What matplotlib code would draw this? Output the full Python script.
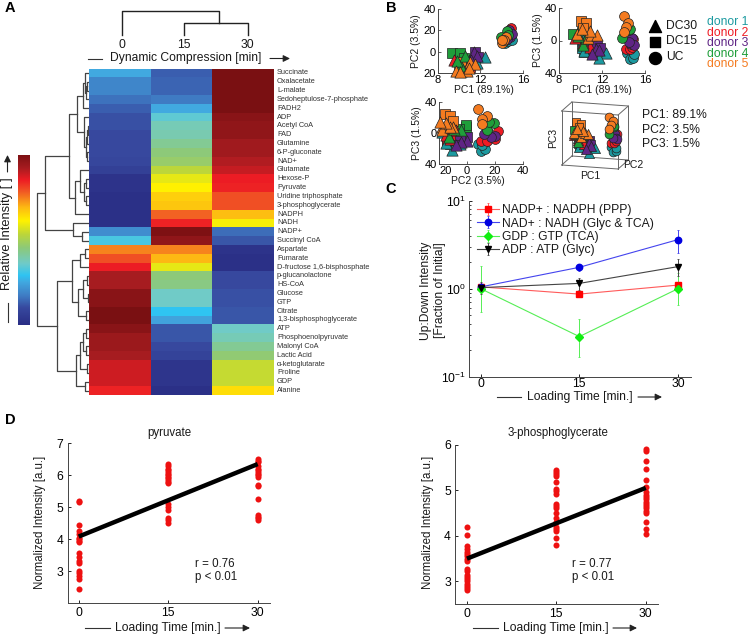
import matplotlib
matplotlib.use('Agg')
import matplotlib.pyplot as plt
import numpy as np
from matplotlib.colors import LinearSegmentedColormap
from matplotlib.ticker import LogFormatterMathtext, NullFormatter

plt.rcParams['font.family'] = ['Liberation Sans', 'DejaVu Sans']
plt.rcParams['mathtext.default'] = 'regular'
plt.rcParams['axes.linewidth'] = 0.7
plt.rcParams['axes.edgecolor'] = '#444444'
plt.rcParams['text.color'] = '#1a1a1a'

W, H = 750, 637

# panel A
metabolites = ['Succinate', 'Oxalacetate', 'L-malate', 'Sedoheptulose-7-phosphate', 'FADH2', 'ADP', 'Acetyl CoA', 'FAD',
               'Glutamine', '6-P-gluconate', 'NAD+', 'Glutamate', 'Hexose-P', 'Pyruvate', 'Uridine triphosphate',
               '3-phosphoglycerate', 'NADPH', 'NADH', 'NADP+', 'Succinyl CoA', 'Aspartate', 'Fumarate',
               'D-fructose 1,6-bisphosphate', 'p-glucanolactone', 'HS-CoA', 'Glucose', 'GTP', 'Citrate',
               '1,3-bisphosphoglycerate', 'ATP', 'Phosphoenolpyruvate', 'Malonyl CoA', 'Lactic Acid', 'α-ketoglutarate',
               'Proline', 'GDP', 'Alanine']
heat_0 = [.25, .19, .19, .16, .13, .11, .11, .10, .10, .10, .09, .07, .02, .02, .01, .01, .01, .01, .20, .32, .74, .79,
          .85, .92, .92, .97, .97, 1.0, 1.0, .97, .94, .94, .92, .88, .88, .88, .84]
heat_15 = [.13, .14, .14, .17, .25, .34, .38, .39, .42, .45, .47, .53, .58, .61, .66, .67, .77, .84, .99, .96, .74, .69,
           .58, .45, .44, .36, .36, .29, .24, .12, .12, .10, .08, .03, .03, .03, .01]
heat_30 = [1.0, 1.0, 1.0, 1.0, 1.0, .97, .96, .96, .93, .93, .91, .89, .85, .84, .79, .79, .68, .60, .15, .12, .02, .01,
           .01, .10, .10, .11, .11, .12, .12, .36, .38, .42, .46, .54, .54, .54, .64]
# clustering of the rows: child, child, distance (new nodes are numbered from 37 on)
row_merges = [(1, 2, 2), (37, 3, 3), (0, 38, 4), (39, 4, 6), (6, 7, 1.5), (41, 8, 2.5), (9, 10, 2.5), (42, 43, 3.5),
              (5, 44, 5.5), (40, 45, 12.3), (12, 13, 3.5), (14, 15, 3), (47, 48, 5.5), (11, 49, 9), (50, 16, 14),
              (46, 51, 20), (18, 19, 7.3), (17, 53, 16), (52, 54, 44), (20, 21, 4), (56, 22, 9), (23, 24, 2),
              (25, 26, 1.5), (58, 59, 6), (27, 28, 3), (60, 61, 11.3), (57, 62, 17.3), (29, 30, 3), (31, 32, 3),
              (64, 65, 6), (33, 34, 2), (66, 67, 9), (35, 36, 4), (68, 69, 13.3), (63, 70, 32.3), (55, 71, 52.3)]
heat_times = ['0', '15', '30']

# panel B: PC scores per donor (donor 1..5)
donor_colors = ['#1c9aa0', '#ee1c25', '#5f2585', '#1f9e3a', '#f47b20']
dc15_pc1 = [[10.3, 10.5, 10.1], [10.9, 11.0], [11.5, 11.8, 11.2], [9.3, 10.1, 10.4], [10.0, 10.5, 10.2]]
dc15_pc2 = [[-12, -8, -14], [-10, -14], [0, -5, -8], [-1, -1, -6], [-16, -12, -10]]
dc15_pc3 = [[-14, -11, -9], [-4, -9], [-5, -9, -16], [8, 10, 5], [24, 21, 15]]
dc30_pc1 = [[12.4, 11.7, 10.3, 10.2], [9.5, 10.9, 10.2], [11.4, 11.7, 11.1], [10.2, 10.5, 9.8],
            [9.7, 10.7, 11.0, 11.5, 10.9, 10.1]]
dc30_pc2 = [[-5, -11, -15, -18], [-8, -12, -15], [0, -4, -8], [-13, -4, -9], [-18, -18, -10, -12, -15, -19]]
dc30_pc3 = [[-15, -22, -13, 1], [3, -8, -3], [-10, -12, -16], [-6, 3, 5], [8, 3, 7, 7, 12, 14]]
uc_pc1 = [[14.3, 14.6, 14.9, 15.0], [14.2, 14.6, 14.8, 14.9], [14.8, 14.7, 15.0, 14.5], [14.5, 13.9, 14.6],
          [14.05, 14.4, 14.2, 14.0]]
uc_pc2 = [[8, 10, 13, 11], [10, 14, 20, 22], [14, 20, 17, 12], [19, 14, 16], [8, 14, 11, 11]]
uc_pc3 = [[-15, -23, -21, -16], [-10, -10, -8, 2], [3, -4, -5, -2], [13, 3, 14], [30, 22, 17, 11]]
donor_names = ['donor 1', 'donor 2', 'donor 3', 'donor 4', 'donor 5']
variance = ['PC1: 89.1%', 'PC2: 3.5%', 'PC3: 1.5%']

# panel C
time_c = [0, 15, 30]
nadp_ratio = [1.05, 0.87, 1.10]
nadp_err = [0.08, 0.06, 0.10]
nad_ratio = [1.05, 1.75, 3.6]
nad_err = [0.08, 0.15, 1.05]
gdp_ratio = [1.0, 0.287, 1.0]
gdp_low = [0.46, 0.117, 0.35]
gdp_high = [0.83, 0.173, 0.5]
adp_ratio = [1.03, 1.15, 1.78]
adp_err = [0.16, 0.17, 0.37]

# panel D
time_d = [0, 15, 30]
pyr_0 = [5.2, 5.15, 4.45, 4.25, 4.15, 4.05, 4.0, 3.95, 3.9, 3.55, 3.45, 3.3, 3.25, 3.0, 2.95, 2.85, 2.75, 2.45]
pyr_15 = [6.35, 6.3, 6.2, 6.15, 6.1, 6.05, 6.0, 5.95, 5.9, 5.85, 5.8, 5.75, 5.1, 5.0, 4.9, 4.65, 4.6, 4.5]
pyr_30 = [6.5, 6.45, 6.4, 6.3, 6.2, 6.15, 6.1, 6.05, 6.0, 5.95, 5.7, 5.65, 5.25, 4.75, 4.7, 4.65, 4.6]
pyr_fit = [4.08, 6.35]
pg_0 = [4.2, 4.02, 3.78, 3.72, 3.65, 3.6, 3.55, 3.5, 3.45, 3.28, 3.22, 3.15, 3.1, 3.05, 3.0, 2.95, 2.9, 2.85, 2.82]
pg_15 = [5.45, 5.4, 5.35, 5.3, 5.18, 5.02, 4.98, 4.92, 4.7, 4.65, 4.6, 4.5, 4.4, 4.3, 4.2, 4.15, 4.1, 3.95, 3.8]
pg_30 = [5.9, 5.85, 5.63, 5.47, 5.23, 5.08, 4.95, 4.9, 4.85, 4.8, 4.75, 4.7, 4.65, 4.6, 4.55, 4.5, 4.3, 4.15, 4.05]
pg_fit = [3.5, 5.05]

fig = plt.figure(figsize=(W / 100, H / 100), dpi=100)


def px_axes(x0, y0, x1, y1):
    # axes placed by pixel box (y counted from the top)
    return fig.add_axes([x0 / W, 1 - y1 / H, (x1 - x0) / W, (y1 - y0) / H])


# overlay in pixel coords for labels, arrows
over = fig.add_axes([0, 0, 1, 1], zorder=10)
over.set_xlim(0, W)
over.set_ylim(H, 0)
over.axis('off')
over.patch.set_alpha(0)


def txt(x, y, s, size=8.7, ha='center', **kw):
    over.text(x, y, s, fontsize=size, ha=ha, va='center', **kw)


def arrow_label(x0, x1, x2, x3, y, s, size=8.7):
    # ---- text --->
    over.plot([x0, x1], [y, y], color='#333333', lw=0.8)
    txt((x1 + x2) / 2, y, s, size=size)
    over.annotate('', xy=(x3, y), xytext=(x2, y),
                  arrowprops=dict(arrowstyle='-|>', color='#222222', lw=0.8, mutation_scale=10, shrinkA=0, shrinkB=0))


for letter, lx, ly in [('A', 10, 8), ('B', 391, 8), ('C', 391, 189), ('D', 10, 420)]:
    txt(lx, ly, letter, size=10.5, fontweight='bold', color='black')

# ---- A heatmap
colors = [(0, '#2a2e85'), (.10, '#37499f'), (.17, '#3f7cc4'), (.25, '#41a8e0'), (.29, '#2fc4f2'), (.36, '#70cbc8'),
          (.45, '#8cc97a'), (.53, '#bcd63a'), (.61, '#fff200'), (.69, '#fdb813'), (.78, '#f15a24'), (.85, '#ed1c24'),
          (.92, '#a71c20'), (1, '#7a1012')]
cmap = LinearSegmentedColormap.from_list('heat', colors)
heat = np.array([heat_0, heat_15, heat_30]).T

ax = px_axes(89, 68.5, 273.5, 395)
ax.pcolormesh(heat, cmap=cmap, vmin=0, vmax=1)
ax.set_ylim(len(metabolites), 0)
ax.axis('off')
row_h = 326.5 / len(metabolites)
for i, name in enumerate(metabolites):
    txt(277, 68.5 + (i + .5) * row_h, name, size=5.3, ha='left', color='#333333')

# row dendrogram
ax = px_axes(30, 68.5, 89, 395)
ax.set_xlim(59, 0)
ax.set_ylim(len(metabolites), 0)
ax.axis('off')
node_y = {i: i + .5 for i in range(len(metabolites))}
node_h = {i: 0 for i in range(len(metabolites))}
for k, (a, b, dist) in enumerate(row_merges):
    ax.plot([node_h[a], dist, dist, node_h[b]], [node_y[a], node_y[a], node_y[b], node_y[b]], color='#444444', lw=0.9)
    node_y[len(metabolites) + k] = (node_y[a] + node_y[b]) / 2
    node_h[len(metabolites) + k] = dist

# column dendrogram
ax = px_axes(100, 5, 270, 40)
ax.set_xlim(100, 270)
ax.set_ylim(40, 5)
ax.axis('off')
ax.plot([184, 184, 247.5, 247.5], [35, 23, 23, 35], color='#222222', lw=1)
ax.plot([121.5, 121.5, 219, 219], [35, 11, 11, 23], color='#222222', lw=1)
for label, cx in zip(heat_times, [121.5, 184, 247.5]):
    txt(cx, 45.5, label, size=8.7)
arrow_label(88, 102, 270, 290, 58.5, 'Dynamic Compression [min]')

# colorbar
ax = px_axes(17.5, 155, 29, 325)
ax.imshow(np.linspace(1, 0, 256)[:, None], cmap=cmap, aspect='auto', vmin=0, vmax=1)
ax.axis('off')
txt(7.5, 234, 'Relative Intensity [ ]', size=9.3, rotation=90)
over.plot([7.5, 7.5], [322, 303], color='#333333', lw=0.8)
over.annotate('', xy=(7.5, 155), xytext=(7.5, 172),
              arrowprops=dict(arrowstyle='-|>', color='#222222', lw=0.8, mutation_scale=10, shrinkA=0, shrinkB=0))


# ---- B scatter
def scatter_all(axis, xs, ys, scale=1.0, clip=False):
    # xs, ys hold (dc15, dc30, uc) per donor
    for cond, (marker, size) in enumerate([('s', 44), ('^', 66), ('o', 50)]):
        for d in range(5):
            axis.scatter(xs[cond][d], ys[cond][d], marker=marker, s=size * scale, c=donor_colors[d],
                         edgecolors='#222222', linewidths=0.5, clip_on=clip, zorder=3)


pc1 = [dc15_pc1, dc30_pc1, uc_pc1]
pc2 = [dc15_pc2, dc30_pc2, uc_pc2]
pc3 = [dc15_pc3, dc30_pc3, uc_pc3]


def pc_axes(box, xs, ys, xlim, xticks, xlabels, ylim, yticks, ylabels, xlabel, ylabel, lx, ly):
    axis = px_axes(*box)
    scatter_all(axis, xs, ys)
    axis.set_xlim(*xlim)
    axis.set_ylim(*ylim)
    axis.set_xticks(xticks)
    axis.set_xticklabels(xlabels, fontsize=8)
    axis.set_yticks(yticks)
    axis.set_yticklabels(ylabels, fontsize=8)
    axis.tick_params(direction='in', length=2, width=0.6, pad=1.5, color='#444444')
    axis.spines['top'].set_visible(False)
    axis.spines['right'].set_visible(False)
    txt((box[0] + box[2]) / 2 + lx, box[3] + 17, xlabel, size=7.5)
    txt(box[0] + ly, (box[1] + box[3]) / 2, ylabel, size=7.5, rotation=90)
    return axis


pc_axes((438, 9, 523, 73), pc1, pc2, (8, 16), [8, 12, 16], ['8', '12', '16'], (-20, 40), [-20, 0, 20, 40],
        ['20', '0', '20', '40'], 'PC1 (89.1%)', 'PC2 (3.5%)', 3, -22)
pc_axes((559, 8, 645, 73), pc1, pc3, (8, 16), [8, 12, 16], ['8', '12', '16'], (-40, 40), [-40, 0, 40],
        ['40', '0', '40'], 'PC1 (89.1%)', 'PC3 (1.5%)', 0, -21)
ax3 = pc_axes((439, 101.5, 523, 164), pc2, pc3, (-20, 40), [-20, 0, 20, 40], ['20', '0', '20', '40'], (-40, 40),
              [-40, 0, 40], ['40', '0', '40'], 'PC2 (3.5%)', 'PC3 (1.5%)', -3, -22)
ax3.get_xticklabels()[0].set_ha('left')


# 3d panel: oblique projection of the PC scores into pixels
def project(p1, p2, p3):
    p1, p2, p3 = np.asarray(p1, float), np.asarray(p2, float), np.asarray(p3, float)
    return (561.7 + (p1 - 8) * 7.05 + (p2 + 20) * 0.17,
            165 + (p1 - 8) * 0.5 - (p2 + 20) * 0.15 - (p3 + 40) * 0.675)


corners = {(a, b, c): project(a, b, c) for a in (8, 16) for b in (-20, 40) for c in (-40, 40)}
for a in (8, 16):
    for b in (-20, 40):
        over.plot(*zip(corners[(a, b, -40)], corners[(a, b, 40)]), color='#666666', lw=0.7, zorder=1)
for a in (8, 16):
    for c in (-40, 40):
        over.plot(*zip(corners[(a, -20, c)], corners[(a, 40, c)]), color='#666666', lw=0.7, zorder=1)
for b in (-20, 40):
    for c in (-40, 40):
        over.plot(*zip(corners[(8, b, c)], corners[(16, b, c)]), color='#666666', lw=0.7, zorder=1)
xs3 = [[project(p1, p2, p3)[0] for p1, p2, p3 in zip(pc1[c], pc2[c], pc3[c])] for c in range(3)]
ys3 = [[project(p1, p2, p3)[1] for p1, p2, p3 in zip(pc1[c], pc2[c], pc3[c])] for c in range(3)]
scatter_all(over, xs3, ys3, scale=0.8)
txt(553, 138, 'PC3', size=7.5, rotation=90)
txt(590, 176, 'PC1', size=7.5)
txt(633, 165, 'PC2', size=7.5)
for i, line in enumerate(variance):
    txt(642, 115 + i * 14.7, line, ha='left')

# marker legend
for y, marker, size, label in [(26, '^', 75, 'DC30'), (41.5, 's', 55, 'DC15'), (57.5, 'o', 75, 'UC')]:
    over.scatter([655], [y], marker=marker, s=size, c='black')
    txt(666, y, label, ha='left')
for i, name in enumerate(donor_names):
    txt(707, 22 + i * 10.6, name, ha='left', color=donor_colors[i])

# ---- C ratios
ax = px_axes(469, 200.5, 691, 377)
series = [('NADP+ : NADPH (PPP)', nadp_ratio, nadp_err, nadp_err, '#ff5a5a', '#ff0000', 's', 4),
          ('NAD+ : NADH (Glyc & TCA)', nad_ratio, nad_err, nad_err, '#4444ee', '#0000e0', 'o', 4.6),
          ('GDP : GTP (TCA)', gdp_ratio, gdp_low, gdp_high, '#55ee55', '#11ee11', 'D', 3.6),
          ('ADP : ATP (Glyc)', adp_ratio, adp_err, adp_err, '#444444', '#000000', 'v', 4.8)]
for label, vals, low, high, line_col, mark_col, marker, ms in series:
    ax.errorbar(time_c, vals, yerr=[low, high], color=line_col, ecolor=line_col, elinewidth=0.7, lw=0.8, capsize=0.8,
                capthick=0.6, marker=marker, ms=ms, mfc=mark_col, mec=mark_col, label=label)
ax.set_yscale('log')
ax.set_ylim(0.1, 10)
ax.set_xlim(-1.8, 32)
ax.set_xticks(time_c)
ax.set_xticklabels(['0', '15', '30'], fontsize=8.7)
ax.yaxis.set_major_formatter(LogFormatterMathtext())
ax.yaxis.set_minor_formatter(NullFormatter())
ax.tick_params(axis='x', which='major', direction='in', length=2.5, width=0.6, pad=1, labelsize=8.7)
ax.tick_params(axis='y', which='major', direction='in', length=2.5, width=0.6, pad=2, labelsize=8.7)
ax.tick_params(axis='y', which='minor', direction='in', length=1.5, width=0.5)
ax.spines['top'].set_visible(False)
ax.spines['right'].set_visible(False)
ax.legend(loc='upper left', bbox_to_anchor=(0.02, 1.0), frameon=False, fontsize=8.7, labelspacing=0.12,
          handlelength=1.85, handletextpad=0.2, borderpad=0.2, borderaxespad=0.1)
txt(426.5, 290.5, 'Up:Down Intensity', rotation=90)
txt(440.5, 290.5, '[Fraction of Initial]', rotation=90)
arrow_label(497, 521, 638, 662, 397, 'Loading Time [min.]')


# ---- D regressions
def regress_panel(box, times, groups, fit, xlim, ylim, yticks, title, note_x, tcx, arrow_x):
    axis = px_axes(*box)
    for t, vals in zip(times, groups):
        axis.scatter([t] * len(vals), vals, s=19, c='#ee1111', linewidths=0, zorder=2, clip_on=False)
    axis.plot([times[0], times[-1]], fit, color='black', lw=3.2, zorder=3, solid_capstyle='butt')
    axis.set_xlim(*xlim)
    axis.set_ylim(*ylim)
    axis.set_xticks(times)
    axis.set_yticks(yticks)
    axis.tick_params(direction='in', length=2, width=0.6, pad=3, labelsize=8.7)
    axis.spines['top'].set_visible(False)
    axis.spines['right'].set_visible(False)
    txt(box[0] - 27.5, 522, 'Normalized Intensity [a.u.]', size=8.3, rotation=90)
    txt(tcx, 433, title, size=8.3)
    txt(note_x[0], 564, note_x[1], ha='left', size=8.3)
    txt(note_x[0], 577, note_x[2], ha='left', size=8.3)
    arrow_label(arrow_x[0], arrow_x[1], arrow_x[2], arrow_x[3], 628, 'Loading Time [min.]')


regress_panel((67.7, 443.3, 270, 603), time_d, [pyr_0, pyr_15, pyr_30], pyr_fit, (-1.84, 32.06), (2, 7),
              [3, 4, 5, 6, 7], 'pyruvate', (195, 'r = 0.76', 'p < 0.01'), 169, (85, 110, 225, 250))
regress_panel((455, 444.5, 657.7, 604.3), time_d, [pg_0, pg_15, pg_30], pg_fit, (-2, 32), (2.5, 6),
              [3, 4, 5, 6], '3-phosphoglycerate', (572, 'r = 0.77', 'p < 0.01'), 558, (473, 498, 613, 637))

plt.savefig('out.png', dpi=100)
